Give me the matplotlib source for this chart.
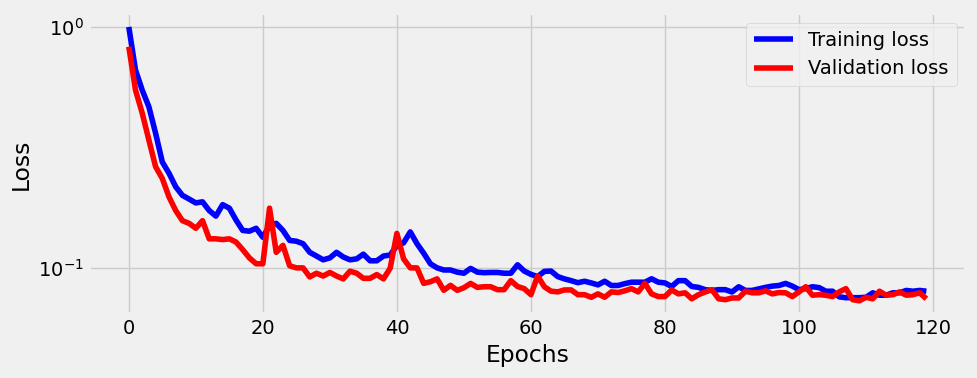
import matplotlib
matplotlib.use("Agg")
import matplotlib.pyplot as plt
import numpy as np

# 每个 epoch 的损失值
train_loss = [
    1.0, 0.663, 0.547, 0.466, 0.362, 0.275, 0.247, 0.217, 0.200, 0.193,
    0.186, 0.188, 0.173, 0.164, 0.183, 0.177, 0.158, 0.143, 0.142, 0.146,
    0.134, 0.150, 0.153, 0.143, 0.130, 0.129, 0.126, 0.116, 0.112, 0.108,
    0.110, 0.116, 0.111, 0.108, 0.109, 0.114, 0.107, 0.107, 0.112, 0.113,
    0.124, 0.127, 0.141, 0.126, 0.115, 0.104, 0.100, 0.098, 0.098, 0.096,
    0.095, 0.0995, 0.096, 0.0955, 0.0957, 0.0957, 0.095, 0.095, 0.103, 0.097,
    0.094, 0.092, 0.0967, 0.097, 0.092, 0.090, 0.0885, 0.0868, 0.088, 0.0866,
    0.085, 0.088, 0.0845, 0.0845, 0.086, 0.0872, 0.0872, 0.0872, 0.0901, 0.0872,
    0.0866, 0.0837, 0.0885, 0.0885, 0.0837, 0.083, 0.0812, 0.0806, 0.0812, 0.0812,
    0.0794, 0.0835, 0.0806, 0.0806, 0.0818, 0.083, 0.084, 0.0845, 0.0862, 0.084,
    0.0812, 0.082, 0.0835, 0.0828, 0.080, 0.080, 0.0758, 0.0752, 0.0752, 0.0752,
    0.0755, 0.0788, 0.077, 0.077, 0.0788, 0.0788, 0.0806, 0.080, 0.0806, 0.080,
]
val_loss = [
    0.828, 0.547, 0.439, 0.339, 0.263, 0.235, 0.197, 0.173, 0.157, 0.153,
    0.146, 0.157, 0.132, 0.132, 0.131, 0.132, 0.128, 0.119, 0.110, 0.104,
    0.104, 0.177, 0.116, 0.124, 0.102, 0.100, 0.100, 0.0917, 0.095, 0.0925,
    0.0957, 0.0925, 0.090, 0.0969, 0.095, 0.0905, 0.0905, 0.0938, 0.090, 0.0997,
    0.139, 0.109, 0.100, 0.100, 0.0862, 0.0876, 0.090, 0.0807, 0.0846, 0.0807,
    0.0827, 0.0862, 0.083, 0.0835, 0.0835, 0.0812, 0.0812, 0.0885, 0.0837, 0.082,
    0.0774, 0.0925, 0.0835, 0.080, 0.0795, 0.081, 0.081, 0.0774, 0.0774, 0.0755,
    0.078, 0.0755, 0.0795, 0.079, 0.0803, 0.082, 0.0795, 0.0862, 0.078, 0.076,
    0.076, 0.081, 0.078, 0.0788, 0.0744, 0.0774, 0.0794, 0.0812, 0.0744, 0.0738,
    0.075, 0.075, 0.080, 0.0788, 0.0788, 0.0803, 0.078, 0.079, 0.0788, 0.076,
    0.0795, 0.0835, 0.077, 0.0774, 0.077, 0.076, 0.0795, 0.082, 0.0738, 0.073,
    0.0755, 0.0744, 0.080, 0.077, 0.0774, 0.0795, 0.077, 0.0774, 0.0788, 0.0744,
]
epochs = np.arange(len(train_loss))

plt.style.use("fivethirtyeight")
fig, ax = plt.subplots(figsize=(9.77, 3.78), dpi=100)
ax.plot(epochs, train_loss, color="blue", label="Training loss")
ax.plot(epochs, val_loss, color="red", label="Validation loss")
ax.set_yscale("log")
ax.set_xlabel("Epochs")
ax.set_ylabel("Loss")
ax.legend(loc="upper right", fontsize=14)
fig.subplots_adjust(left=0.091, right=0.989, top=0.965, bottom=0.168)
fig.savefig("out.png", dpi=100)
